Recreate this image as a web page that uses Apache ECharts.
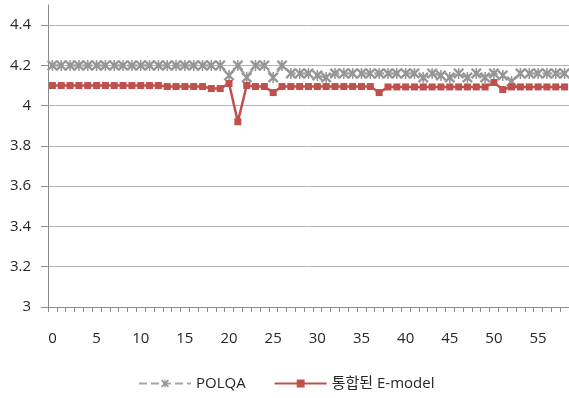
<!DOCTYPE html>
<html>
<head>
<meta charset="utf-8">
<script src="https://cdn.jsdelivr.net/npm/echarts@6/dist/echarts.min.js"></script>
<style>
    html, body { margin: 0; padding: 0; background: #fff; }
    #my-quality-echarts-canvas { width: 569px; height: 398px; }
</style>
</head>
<body>
<div id="my-quality-echarts-canvas"></div>
<script>
// x轴类别
var categories = ['0', '1', '2', '3', '4', '5', '6', '7', '8', '9',
    '10', '11', '12', '13', '14', '15', '16', '17', '18', '19',
    '20', '21', '22', '23', '24', '25', '26', '27', '28', '29',
    '30', '31', '32', '33', '34', '35', '36', '37', '38', '39',
    '40', '41', '42', '43', '44', '45', '46', '47', '48', '49',
    '50', '51', '52', '53', '54', '55', '56', '57', '58'];

var seriesNames = ['POLQA', '통합된 E-model'];

// POLQA
var polqaData = [4.2, 4.2, 4.2, 4.2, 4.2, 4.2, 4.2, 4.2, 4.2, 4.2,
    4.2, 4.2, 4.2, 4.2, 4.2, 4.2, 4.2, 4.2, 4.2, 4.2,
    4.15, 4.2, 4.14, 4.2, 4.2, 4.14, 4.2, 4.16, 4.16, 4.16,
    4.15, 4.14, 4.16, 4.16, 4.16, 4.16, 4.16, 4.16, 4.16, 4.16,
    4.16, 4.16, 4.14, 4.16, 4.15, 4.14, 4.16, 4.14, 4.16, 4.14,
    4.16, 4.15, 4.12, 4.16, 4.16, 4.16, 4.16, 4.16, 4.16];

// 통합된 E-model
var emodelData = [4.1, 4.1, 4.1, 4.1, 4.1, 4.1, 4.1, 4.1, 4.1, 4.1,
    4.1, 4.1, 4.1, 4.095, 4.095, 4.095, 4.095, 4.095, 4.085, 4.085,
    4.11, 3.92, 4.1, 4.095, 4.095, 4.065, 4.095, 4.095, 4.095, 4.095,
    4.095, 4.095, 4.095, 4.095, 4.095, 4.095, 4.095, 4.065, 4.093, 4.093,
    4.093, 4.093, 4.093, 4.093, 4.093, 4.093, 4.093, 4.093, 4.093, 4.093,
    4.115, 4.08, 4.093, 4.093, 4.093, 4.093, 4.093, 4.093, 4.093];

window.onload = function () {
    var chart = echarts.init(document.getElementById('my-quality-echarts-canvas'));
    // 星形标记: X 加一条竖线
    var starSymbol = 'path://M0,1.5L1.5,0L5,3.5L8.5,0L10,1.5L6.5,5L10,8.5L8.5,10L5,6.5L1.5,10L0,8.5L3.5,5Z' +
        'M4.3,0L5.7,0L5.7,10L4.3,10Z';
    var option = {
        animation: false,
        textStyle: {
            fontFamily: "'Open Sans', 'Noto Sans CJK KR', sans-serif"
        },
        grid: {
            left: 48,
            right: 0,
            top: 5,
            bottom: 91
        },
        legend: {
            left: 133,
            top: 371,
            itemWidth: 52,
            itemHeight: 10,
            itemGap: 28,
            textStyle: {
                fontSize: 15,
                color: '#262626',
                fontFamily: "'Open Sans', 'Noto Sans CJK KR', sans-serif"
            },
            data: seriesNames
        },
        xAxis: {
            type: 'category',
            boundaryGap: true,
            data: categories,
            axisLine: {
                lineStyle: { color: '#8c8c8c', width: 1 }
            },
            axisTick: {
                show: true,
                interval: 0,
                length: 5,
                lineStyle: { color: '#8c8c8c' }
            },
            axisLabel: {
                interval: 4,
                margin: 24,
                fontSize: 15,
                color: '#262626'
            },
            splitLine: { show: false }
        },
        yAxis: {
            type: 'value',
            min: 3,
            max: 4.5,
            interval: 0.2,
            axisLine: {
                show: true,
                lineStyle: { color: '#8c8c8c', width: 1 }
            },
            axisTick: {
                show: true,
                length: 7,
                lineStyle: { color: '#8c8c8c' }
            },
            axisLabel: {
                showMaxLabel: false,
                margin: 17,
                fontSize: 15,
                color: '#262626',
                formatter: function (v) {
                    return +v.toFixed(1) + '';
                }
            },
            splitLine: {
                show: true,
                lineStyle: {
                    color: ['#b3b3b3', '#b3b3b3', '#b3b3b3', '#b3b3b3', '#b3b3b3',
                        '#b3b3b3', '#b3b3b3', '#b3b3b3', 'rgba(0,0,0,0)']
                }
            }
        },
        series: [{
            name: seriesNames[0],
            type: 'line',
            data: polqaData,
            symbol: starSymbol,
            symbolSize: 11,
            showAllSymbol: true,
            z: 2,
            lineStyle: {
                color: '#a6a6a6',
                width: 2.5,
                type: 'dashed'
            },
            itemStyle: {
                color: '#969696'
            }
        }, {
            name: seriesNames[1],
            type: 'line',
            data: emodelData,
            symbol: 'rect',
            symbolSize: 7,
            showAllSymbol: true,
            z: 3,
            lineStyle: {
                color: '#c0504d',
                width: 2.5
            },
            itemStyle: {
                color: '#c0504d'
            }
        }]
    };
    chart.setOption(option);
};
</script>
</body>
</html>
